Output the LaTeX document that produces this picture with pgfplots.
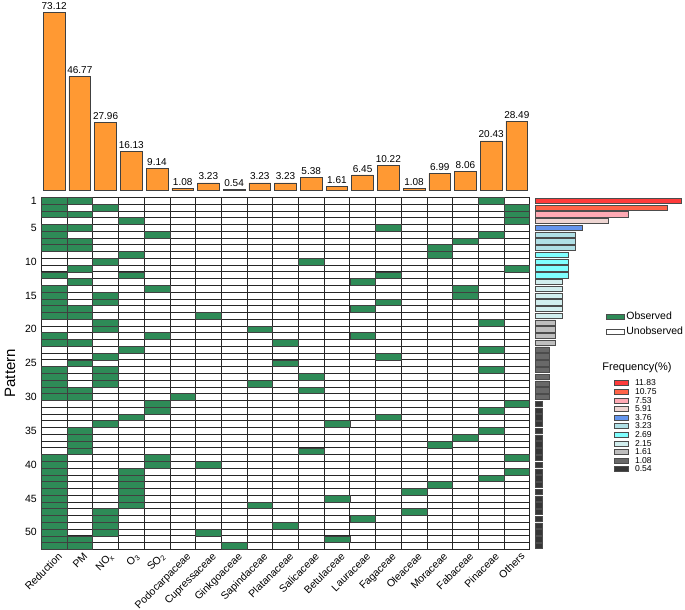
\documentclass[border=0pt]{standalone}
\usepackage{pgfplots}
\pgfplotsset{compat=1.18}
\usepackage{fontspec}
\setmainfont{Liberation Sans}

\definecolor{barorange}{RGB}{255,153,51}
\definecolor{obsgreen}{RGB}{46,139,87}
\definecolor{fa}{RGB}{255,59,59}
\definecolor{fb}{RGB}{255,99,71}
\definecolor{fc}{RGB}{255,170,180}
\definecolor{fd}{RGB}{238,213,210}
\definecolor{fe}{RGB}{100,149,237}
\definecolor{ff}{RGB}{176,224,230}
\definecolor{fg}{RGB}{128,255,255}
\definecolor{fh}{RGB}{209,238,238}
\definecolor{fi}{RGB}{190,190,190}
\definecolor{fj}{RGB}{105,105,105}
\definecolor{fk}{RGB}{54,54,54}

% one matrix cell, 488.4pt/19 wide and 352pt/52 high
\pgfdeclareplotmark{cell}{%
  \pgfpathrectangle{\pgfpoint{-12.853pt}{-3.385pt}}{\pgfpoint{25.705pt}{6.769pt}}%
  \pgfusepathqfillstroke}

\pgfplotsset{
  fbar/.style={fill=#1, draw=black!70, line width=0.5pt,
    legend image code/.code={\draw[fill=#1, draw=black!70, line width=0.5pt] (0pt,-2.5pt) rectangle (13.3pt,2.5pt);}},
}

\begin{document}
\begin{tikzpicture}
\path[use as bounding box] (0pt,0pt) rectangle (685pt,610pt);

% ---- top bars: share of studies per factor
\begin{axis}[
    at={(41.3pt,419.3pt)}, anchor=south west,
    scale only axis, width=488.4pt, height=178.4pt,
    xmin=-0.5, xmax=18.5, ymin=0, ymax=73.12,
    hide axis, clip=false,
    ybar, bar width=0.845, bar shift=0pt,
    nodes near coords,
    every node near coord/.append style={font=\fontsize{10}{11}\selectfont, inner sep=2.5pt},
    /pgf/number format/fixed,
    /pgf/number format/fixed zerofill,
    /pgf/number format/precision=2,
    /pgf/number format/assume math mode=true,
  ]
  \addplot[fill=barorange, draw=black!75, line width=0.6pt] coordinates {
    (0,73.12) (1,46.77) (2,27.96) (3,16.13) (4,9.14) (5,1.08) (6,3.23)
    (7,0.54) (8,3.23) (9,3.23) (10,5.38) (11,1.61) (12,6.45) (13,10.22)
    (14,1.08) (15,6.99) (16,8.06) (17,20.43) (18,28.49)};
\end{axis}

% ---- pattern matrix
\begin{axis}[
    at={(41.3pt,60.7pt)}, anchor=south west,
    scale only axis, width=488.4pt, height=352pt,
    xmin=-0.5, xmax=18.5, ymin=0.5, ymax=52.5, y dir=reverse,
    xtick={0,...,18},
    xticklabels={Reduction, PM, NO\textsubscript{x}, O\textsubscript{3}, SO\textsubscript{2},
      Podocarpaceae, Cupressaceae, Ginkgoaceae, Sapindaceae, Platanaceae,
      Salicaceae, Betulaceae, Lauraceae, Fagaceae, Oleaceae, Moraceae,
      Fabaceae, Pinaceae, Others},
    ytick={1,5,10,15,20,25,30,35,40,45,50},
    minor xtick={-0.5,0.5,...,18.5},
    minor ytick={0.5,1.5,...,52.5},
    grid=minor,
    minor grid style={line width=0.55pt, black!85},
    axis line style={line width=0.6pt, black!85},
    major tick length=0pt, minor tick length=0pt,
    yticklabel style={font=\fontsize{10.5}{12}\selectfont, xshift=-1pt},
    xticklabel style={font=\fontsize{10.5}{12}\selectfont, rotate=45, anchor=north east, xshift=4pt, yshift=-0.5pt},
    /pgf/number format/assume math mode=true,
    ylabel={Pattern},
    ylabel style={font=\fontsize{15}{17}\selectfont, at={(axis description cs:-0.064,0.5)}, anchor=center},
    legend style={draw=none, fill=none, at={(axis description cs:1.1556,0.6395)}, anchor=west,
      inner sep=0pt, font=\fontsize{10.5}{12.5}\selectfont, row sep=2pt,
      cells={anchor=west}},
  ]
  \addplot[only marks, mark=cell, mark options={fill=obsgreen, draw=black!75, line width=0.5pt}, forget plot]
  coordinates {
    (0,1)(1,1)(17,1)
    (0,2)(2,2)(18,2)
    (0,3)(1,3)(18,3)
    (3,4)(18,4)
    (0,5)(1,5)(13,5)
    (0,6)(4,6)(17,6)
    (0,7)(1,7)(16,7)
    (0,8)(1,8)(15,8)
    (3,9)(15,9)
    (2,10)(10,10)
    (1,11)(18,11)
    (0,12)(3,12)(13,12)
    (1,13)(12,13)
    (0,14)(4,14)(16,14)
    (0,15)(2,15)(16,15)
    (0,16)(2,16)(13,16)
    (0,17)(1,17)(12,17)
    (0,18)(1,18)(6,18)
    (2,19)(17,19)
    (2,20)(8,20)
    (0,21)(4,21)(12,21)
    (0,22)(1,22)(9,22)
    (3,23)(17,23)
    (2,24)(13,24)
    (1,25)(9,25)
    (0,26)(2,26)(17,26)
    (0,27)(2,27)(10,27)
    (0,28)(2,28)(8,28)
    (0,29)(1,29)(10,29)
    (0,30)(1,30)(5,30)
    (4,31)(18,31)
    (4,32)(17,32)
    (3,33)(13,33)
    (2,34)(11,34)
    (1,35)(17,35)
    (1,36)(16,36)
    (1,37)(15,37)
    (1,38)(10,38)
    (0,39)(4,39)(18,39)
    (0,40)(4,40)(6,40)
    (0,41)(3,41)(18,41)
    (0,42)(3,42)(17,42)
    (0,43)(3,43)(15,43)
    (0,44)(3,44)(14,44)
    (0,45)(3,45)(11,45)
    (0,46)(3,46)(8,46)
    (0,47)(2,47)(14,47)
    (0,48)(2,48)(12,48)
    (0,49)(2,49)(9,49)
    (0,50)(2,50)(6,50)
    (0,51)(1,51)(11,51)
    (0,52)(1,52)(7,52)
  };
  \addlegendimage{legend image code/.code={\draw[fill=obsgreen, draw=black!70, line width=0.5pt] (0pt,-2.7pt) rectangle (18pt,2.7pt);}}
  \addlegendentry{Observed}
  \addlegendimage{legend image code/.code={\draw[fill=white, draw=black!70, line width=0.5pt] (0pt,-2.7pt) rectangle (18pt,2.7pt);}}
  \addlegendentry{Unobserved}
\end{axis}

% ---- frequency of each pattern
\begin{axis}[
    at={(535.7pt,60.7pt)}, anchor=south west,
    scale only axis, width=145.3pt, height=352pt,
    xmin=0, xmax=11.83, ymin=0.5, ymax=52.5, y dir=reverse,
    hide axis, clip=false,
    xbar, bar width=0.78, bar shift=0pt,
    legend style={draw=none, fill=none, at={(axis description cs:0.539,0.3497)}, anchor=west,
      inner sep=0pt, font=\fontsize{8.6}{8.6}\selectfont, row sep=0pt,
      nodes={inner sep=1pt, text height=6pt, text depth=0.6pt},
      /tikz/every odd column/.append style={column sep=6pt},
      cells={anchor=west}},
  ]
  \addplot[fbar=fa] coordinates {(11.83,1)};
  \addplot[fbar=fb] coordinates {(10.75,2)};
  \addplot[fbar=fc] coordinates {(7.53,3)};
  \addplot[fbar=fd] coordinates {(5.91,4)};
  \addplot[fbar=fe] coordinates {(3.76,5)};
  \addplot[fbar=ff] coordinates {(3.23,6)(3.23,7)(3.23,8)};
  \addplot[fbar=fg] coordinates {(2.69,9)(2.69,10)(2.69,11)(2.69,12)};
  \addplot[fbar=fh] coordinates {(2.15,13)(2.15,14)(2.15,15)(2.15,16)(2.15,17)(2.15,18)};
  \addplot[fbar=fi] coordinates {(1.61,19)(1.61,20)(1.61,21)(1.61,22)};
  \addplot[fbar=fj] coordinates {(1.08,23)(1.08,24)(1.08,25)(1.08,26)(1.08,27)(1.08,28)(1.08,29)(1.08,30)};
  \addplot[fbar=fk] coordinates {
    (0.54,31)(0.54,32)(0.54,33)(0.54,34)(0.54,35)(0.54,36)(0.54,37)(0.54,38)
    (0.54,39)(0.54,40)(0.54,41)(0.54,42)(0.54,43)(0.54,44)(0.54,45)(0.54,46)
    (0.54,47)(0.54,48)(0.54,49)(0.54,50)(0.54,51)(0.54,52)};
  \legend{11.83, 10.75, 7.53, 5.91, 3.76, 3.23, 2.69, 2.15, 1.61, 1.08, 0.54}
\end{axis}

\node[font=\fontsize{11}{13}\selectfont] at (637pt,242pt) {Frequency(\%)};
\end{tikzpicture}
\end{document}
